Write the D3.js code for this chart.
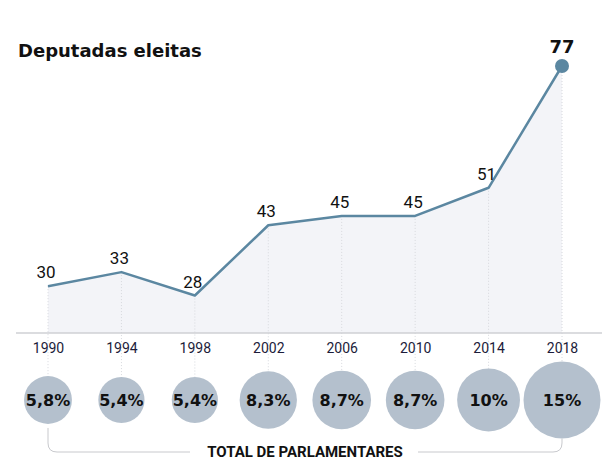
<!DOCTYPE html>
<html>
<head>
<meta charset="utf-8">
<script src="https://cdn.jsdelivr.net/npm/d3@7"></script>
<style>
  body { margin: 0; background: #fff; }
  svg { display: block; font-family: Roboto, "Noto Sans", sans-serif; }
</style>
</head>
<body>
<svg id="chart" width="616" height="470"></svg>
<script>
// données
const anos = ['1990', '1994', '1998', '2002', '2006', '2010', '2014', '2018'];
const eleitas = [30, 33, 28, 43, 45, 45, 51, 77];
const percentual = [5.8, 5.4, 5.4, 8.3, 8.7, 8.7, 10, 15];
const percentualLabels = ['5,8%', '5,4%', '5,4%', '8,3%', '8,7%', '8,7%', '10%', '15%'];

const svg = d3.select('#chart');
const data = anos.map((a, i) => ({ ano: a, v: eleitas[i], p: percentual[i], pl: percentualLabels[i] }));

const x = d3.scalePoint().domain(anos).range([48, 562]);
const y = d3.scaleLinear().domain([20, 77]).range([333, 66]);
const r = d3.scaleSqrt().domain([0, 15]).range([0, 38.5]);
const cy = 400;
const heavy = '"DejaVu Sans", sans-serif';

// titre
svg.append('text')
    .attr('x', 18).attr('y', 57)
    .attr('font-family', heavy)
    .attr('font-size', 18).attr('font-weight', 700)
    .attr('fill', '#111')
    .text('Deputadas eleitas');

// aire
svg.append('path')
    .datum(data)
    .attr('fill', '#f3f4f8')
    .attr('d', d3.area().x(d => x(d.ano)).y0(y(20)).y1(d => y(d.v)));

// lignes verticales pointillées
svg.append('g').selectAll('line')
    .data(data).enter()
    .append('line')
    .attr('x1', d => x(d.ano)).attr('x2', d => x(d.ano))
    .attr('y1', d => y(d.v)).attr('y2', d => cy - r(d.p))
    .attr('stroke', '#d6d8dd')
    .attr('stroke-width', 1)
    .attr('stroke-dasharray', '1,2');

// axe
const axis = svg.append('g').attr('transform', `translate(0,${y(20)})`)
    .call(d3.axisBottom(x).tickSize(0).tickPadding(10));
axis.select('.domain').remove();
axis.append('line')
    .attr('x1', 16).attr('x2', 602)
    .attr('stroke', '#cfd0d4').attr('stroke-width', 1.5);
axis.selectAll('text')
    .attr('font-size', 14)
    .attr('font-family', 'Roboto, sans-serif')
    .attr('fill', '#1c1c3a');

// ligne
svg.append('path')
    .datum(data)
    .attr('fill', 'none')
    .attr('stroke', '#5b87a1')
    .attr('stroke-width', 2.5)
    .attr('stroke-linejoin', 'round')
    .attr('d', d3.line().x(d => x(d.ano)).y(d => y(d.v)));

const last = data[data.length - 1];
svg.append('circle')
    .attr('cx', x(last.ano)).attr('cy', y(last.v))
    .attr('r', 7)
    .attr('fill', '#5b87a1');

// étiquettes des valeurs
svg.append('g').selectAll('text')
    .data(data).enter()
    .append('text')
    .attr('x', (d, i) => x(d.ano) - (i === data.length - 1 ? 0 : 2))
    .attr('y', (d, i) => i === data.length - 1 ? y(d.v) - 13 : y(d.v) - 8)
    .attr('text-anchor', 'middle')
    .attr('font-family', (d, i) => i === data.length - 1 ? heavy : null)
    .attr('font-size', (d, i) => i === data.length - 1 ? 18 : 17)
    .attr('font-weight', (d, i) => i === data.length - 1 ? 700 : 400)
    .attr('fill', '#111')
    .text(d => d.v);

// cercles du total
const bulles = svg.append('g').selectAll('g')
    .data(data).enter()
    .append('g')
    .attr('transform', d => `translate(${x(d.ano)},${cy})`);
bulles.append('circle')
    .attr('r', d => r(d.p))
    .attr('fill', '#b4c0cd');
bulles.append('text')
    .attr('text-anchor', 'middle')
    .attr('dy', 6)
    .attr('font-family', heavy)
    .attr('font-size', 16).attr('font-weight', 700)
    .attr('fill', '#111')
    .text(d => d.pl);

// accolade en bas
const x0 = x(anos[0]), x1 = x(last.ano), yb = 452, rc = 9;
svg.append('path')
    .attr('fill', 'none').attr('stroke', '#c8c9cd').attr('stroke-width', 1)
    .attr('d', `M${x0},${cy + r(data[0].p) + 4} V${yb - rc} Q${x0},${yb} ${x0 + rc},${yb} H190`);
svg.append('path')
    .attr('fill', 'none').attr('stroke', '#c8c9cd').attr('stroke-width', 1)
    .attr('d', `M418,${yb} H${x1 - rc} Q${x1},${yb} ${x1},${yb - rc} V${cy + r(last.p)}`);
svg.append('text')
    .attr('x', (x0 + x1) / 2).attr('y', 457)
    .attr('text-anchor', 'middle')
    .attr('font-size', 15).attr('font-weight', 700)
    .attr('fill', '#111')
    .text('TOTAL DE PARLAMENTARES');
</script>
</body>
</html>
